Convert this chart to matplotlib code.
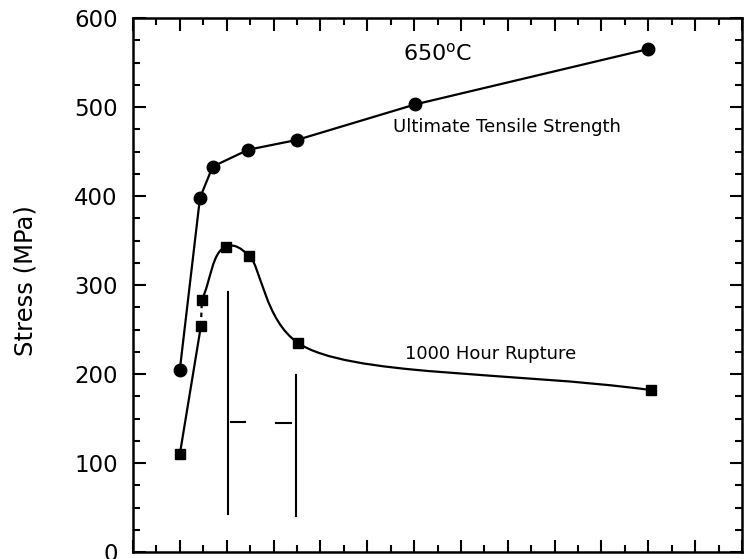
import matplotlib
matplotlib.use("Agg")
import numpy as np
import matplotlib.pyplot as plt
from matplotlib.path import Path
from matplotlib.patches import PathPatch
from matplotlib.ticker import MultipleLocator, NullFormatter

# Ultimate tensile strength at 650 C
uts_x = [1.0, 1.43, 1.70, 2.46, 3.50, 6.03, 10.99]
uts_y = [205, 398, 433, 452, 463, 503, 565]

# 1000 hour rupture strength at 650 C
rup_x = [1.0, 1.45, 1.47, 1.98, 2.48, 3.52, 11.05]
rup_y = [110, 254, 283, 343, 333, 235, 182]

# range markers (vertical bars and short horizontal dashes)
bar_x = [2.03, 3.47]
bar_top = [292, 199]
bar_bottom = [43, 40]
dash_x0 = [2.10, 3.05]
dash_x1 = [2.40, 3.37]
dash_y = [146, 145]

y_ticks = [0, 100, 200, 300, 400, 500, 600]

fig = plt.figure(figsize=(7.44, 5.59), dpi=100)
ax = fig.add_axes([133 / 744, 7 / 559, 609 / 744, 534 / 559])
ax.set_xlim(0, 13)
ax.set_ylim(0, 600)

for s in ax.spines.values():
    s.set_linewidth(1.8)

ax.xaxis.set_major_locator(MultipleLocator(1))
ax.xaxis.set_minor_locator(MultipleLocator(0.5))
ax.set_yticks(y_ticks)
ax.yaxis.set_minor_locator(MultipleLocator(25))
ax.xaxis.set_major_formatter(NullFormatter())
ax.tick_params(which="both", direction="in", top=True, right=True,
               labelbottom=False, width=1.5)
ax.tick_params(which="major", length=9)
ax.tick_params(which="minor", length=5)
ax.tick_params(axis="y", labelsize=16.5, pad=11)

ax.set_ylabel("Stress (MPa)", fontsize=17.5)
ax.yaxis.set_label_coords(-0.176, 0.509)
ax.yaxis.label.set_va("center")

lw = 1.6

# tensile strength: straight segments through the points
ax.plot(uts_x, uts_y, "-", color="black", lw=lw, marker="o", ms=9,
        mfc="black", mec="black")


def smooth_path(xs, ys, k=0.4, c=0.6):
    """Piecewise Bezier curve through the points, built in pixel space.

    Tangents bisect neighbouring chords; each handle is capped relative to
    the neighbouring chord so a long chord next to a short one does not
    swing the curve past the points.
    """
    P = ax.transData.transform(np.column_stack([xs, ys]))
    n = len(P)
    chord = np.diff(P, axis=0)
    L = np.hypot(chord[:, 0], chord[:, 1])
    u = chord / L[:, None]
    T = np.zeros_like(P)
    T[0] = u[0]
    T[-1] = u[-1]
    for i in range(1, n - 1):
        d = u[i - 1] + u[i]
        T[i] = d / np.hypot(*d)
    verts = [P[0]]
    codes = [Path.MOVETO]
    for i in range(n - 1):
        a_out = k * L[i] if i == 0 else min(k * L[i], c * L[i - 1])
        a_in = k * L[i] if i + 1 == n - 1 else min(k * L[i], c * L[i + 1])
        verts += [P[i] + T[i] * a_out, P[i + 1] - T[i + 1] * a_in, P[i + 1]]
        codes += [Path.CURVE4] * 3
    V = ax.transData.inverted().transform(np.array(verts))
    return Path(V, codes)


# rupture strength: straight rise, short dashed link, then a smooth curve
ax.plot(rup_x[:2], rup_y[:2], "-", color="black", lw=lw)
ax.plot(rup_x[1:3], rup_y[1:3], "--", color="black", lw=lw, dashes=(2, 2))
ax.add_patch(PathPatch(smooth_path(rup_x[2:], rup_y[2:]), fill=False,
                       edgecolor="black", lw=lw))
ax.plot(rup_x, rup_y, "s", color="black", ms=7, ls="none")

for x, t, b in zip(bar_x, bar_top, bar_bottom):
    ax.plot([x, x], [b, t], color="black", lw=1.5)
for x0, x1, y in zip(dash_x0, dash_x1, dash_y):
    ax.plot([x0, x1], [y, y], color="black", lw=1.5)

ax.text(6.5, 560, r"650$^{\mathregular{o}}$C", ha="center", va="center",
        fontsize=16)
ax.text(5.56, 477, "Ultimate Tensile Strength", ha="left", va="center",
        fontsize=13)
ax.text(5.81, 222, "1000 Hour Rupture", ha="left", va="center",
        fontsize=13)

fig.savefig("out.png", dpi=100)
